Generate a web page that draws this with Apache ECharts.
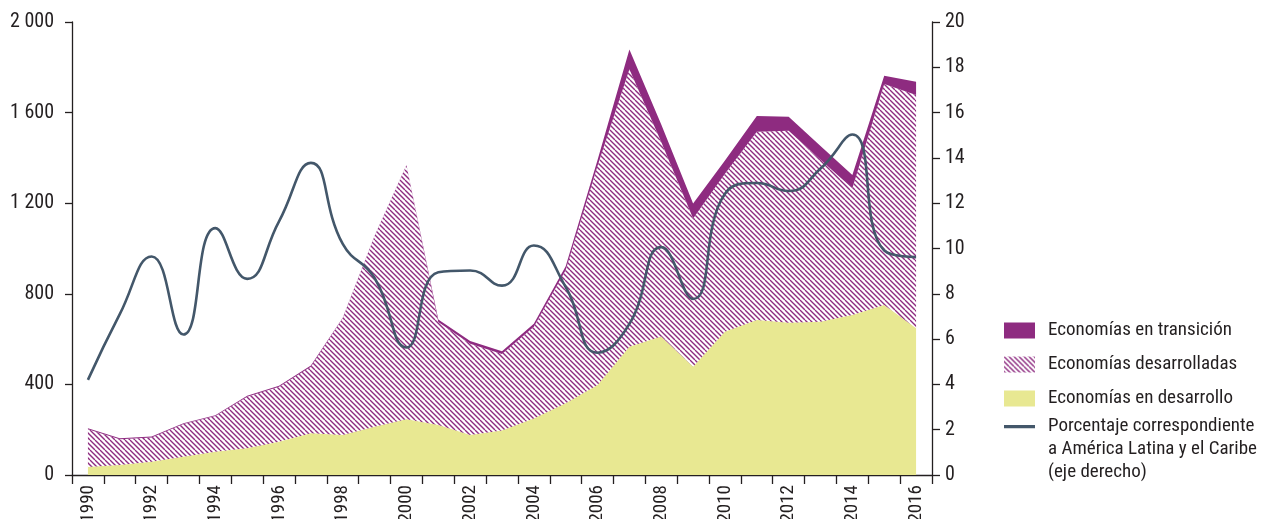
<!DOCTYPE html>
<html><head><meta charset="utf-8">
<script src="https://cdn.jsdelivr.net/npm/echarts@6/dist/echarts.min.js"></script>
<style>html,body{margin:0;padding:0;background:#fff}#c{width:1282px;height:519px}</style>
</head><body><div id="c"></div>
<script>
const years = ['1990','1991','1992','1993','1994','1995','1996','1997','1998','1999','2000','2001','2002','2003','2004','2005','2006','2007','2008','2009','2010','2011','2012','2013','2014','2015','2016'];
const developing = [35,44,59,81,103,118,147,184,177,213,246,221,177,196,250,317,397,566,611,478,633,684,672,677,706,751,648];
const developed = [167,114,107,144,157,228,243,294,515,842,1122,455,403,338,405,588,968,1225,859,655,697,832,848,715,560,975,1030];
const transition = [4,4,4,4,4,4,4,5,2,1,1,10,12,12,13,17,26,88,77,66,58,69,62,60,59,37,58];
const latamShare = [4.2,7.1,9.65,6.2,10.9,8.66,11.2,13.78,10.2,8.7,5.63,8.95,9.03,8.36,10.13,8.3,5.4,6.67,10.06,7.77,12.42,12.89,12.54,13.53,15.03,9.91,9.62];

const N_TRANS = 'Economías en transición';
const N_DEVD = 'Economías desarrolladas';
const N_DEVG = 'Economías en desarrollo';
const N_LINE = 'Porcentaje correspondiente\na América Latina y el Caribe\n(eje derecho)';

const PURPLE = '#8e2b80';
const YELLOW = '#e8e892';
const SLATE = '#43576a';
const INK = '#231f20';
const FONT = '"Roboto Condensed","Liberation Sans Narrow","DejaVu Sans Condensed",Roboto,sans-serif';

function hatchCanvas(){
  const s = 10, c = document.createElement('canvas');
  c.width = s; c.height = s;
  const g = c.getContext('2d');
  g.strokeStyle = PURPLE; g.lineWidth = 1.35;
  for (const off of [-10,-5,0,5,10]) {
    g.beginPath(); g.moveTo(off,0); g.lineTo(off+s,s); g.stroke();
  }
  return c;
}
const hatch = {image: hatchCanvas(), repeat: 'repeat'};
const fmtThousands = v => String(v).replace(/\B(?=(\d{3})+(?!\d))/g, ' ');

// legend icons: drawn in the left 31px of a 39px-wide box
const ICON_RECT = 'path://M0,0h31v16h-31zM39,16h0.001v0.001z';
const ICON_LINE = 'path://M0,0h0.001v0.001zM0,6.5h31v3.2h-31zM39,16h0.001v0.001z';

const chart = echarts.init(document.getElementById('c'), null, {renderer:'canvas'});
chart.setOption({
  animation: false,
  textStyle: {fontFamily: FONT, color: INK},
  grid: {left: 72, right: 350, top: 22, bottom: 44, containLabel: false, outerBoundsMode: 'none'},
  legend: [{
    orient: 'vertical', left: 999, top: 316, itemWidth: 39, itemHeight: 16, itemGap: 15,
    textStyle: {fontFamily: FONT, fontSize: 19, color: INK},
    selectedMode: false, symbolKeepAspect: true,
    data: [
      {name: N_TRANS, icon: ICON_RECT, itemStyle: {color: PURPLE, borderWidth: 0}},
      {name: N_DEVD, icon: ICON_RECT, itemStyle: {color: hatch, borderWidth: 0}},
      {name: N_DEVG, icon: ICON_RECT, itemStyle: {color: YELLOW, borderWidth: 0}}
    ]
  }, {
    orient: 'vertical', left: 999, top: 364, itemWidth: 39, itemHeight: 16,
    textStyle: {fontFamily: FONT, fontSize: 19, color: INK, lineHeight: 23},
    selectedMode: false, symbolKeepAspect: true,
    formatter: name => '\n\n' + name,
    data: [{name: N_LINE, icon: ICON_LINE, itemStyle: {color: SLATE, borderWidth: 0}}]
  }],
  xAxis: {
    type: 'category', data: years, boundaryGap: true,
    axisLine: {show: true, lineStyle: {color: INK, width: 1.3}},
    axisTick: {show: true, interval: 0, length: 9, lineStyle: {color: INK, width: 1.3}},
    axisLabel: {interval: 1, rotate: 90, margin: 10, fontSize: 19, color: INK, fontFamily: FONT}
  },
  yAxis: [{
    type: 'value', min: 0, max: 2000, interval: 400, position: 'left',
    axisLine: {show: true, lineStyle: {color: INK, width: 1.3}},
    axisTick: {show: true, length: 7, lineStyle: {color: INK, width: 1.3}},
    splitLine: {show: false},
    axisLabel: {margin: 18, fontSize: 20, color: INK, fontFamily: FONT, formatter: fmtThousands}
  }, {
    type: 'value', min: 0, max: 20, interval: 2, position: 'right',
    axisLine: {show: true, lineStyle: {color: INK, width: 1.3}},
    axisTick: {show: true, length: 8, lineStyle: {color: INK, width: 1.3}},
    splitLine: {show: false},
    axisLabel: {margin: 13, fontSize: 20, color: INK, fontFamily: FONT}
  }],
  series: [
    {name: N_DEVG, type: 'line', stack: 'total', data: developing, symbol: 'none',
     lineStyle: {width: 0}, itemStyle: {color: YELLOW}, areaStyle: {color: YELLOW, opacity: 1}, z: 2},
    {name: N_DEVD, type: 'line', stack: 'total', data: developed, symbol: 'none',
     lineStyle: {width: 0}, itemStyle: {color: PURPLE}, areaStyle: {color: hatch, opacity: 1}, z: 2},
    {name: N_TRANS, type: 'line', stack: 'total', data: transition, symbol: 'none',
     lineStyle: {width: 0}, itemStyle: {color: PURPLE}, areaStyle: {color: PURPLE, opacity: 1}, z: 2},
    {name: N_LINE, type: 'line', yAxisIndex: 1, data: latamShare, symbol: 'none', smooth: 0.5,
     lineStyle: {width: 2.6, color: SLATE}, itemStyle: {color: SLATE}, z: 5}
  ]
});
</script></body></html>
